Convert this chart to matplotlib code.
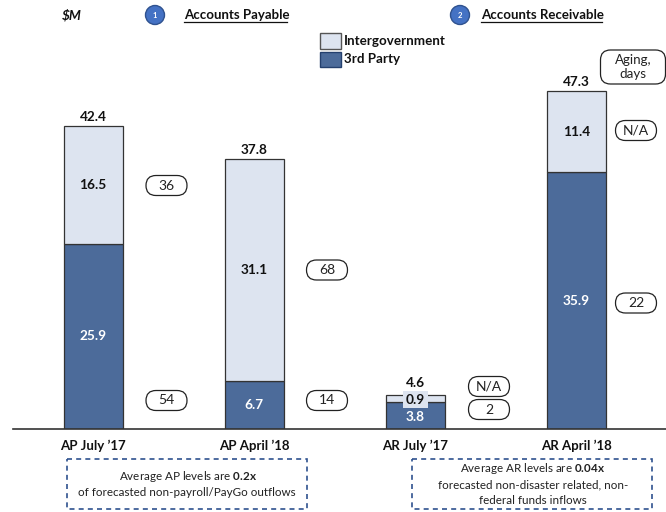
import matplotlib
matplotlib.use("Agg")
import matplotlib.pyplot as plt
from matplotlib.patches import FancyBboxPatch, Rectangle, Circle

plt.rcParams['font.family'] = ['Lato', 'DejaVu Sans']
plt.rcParams['mathtext.fontset'] = 'custom'
plt.rcParams['mathtext.bf'] = 'Lato:bold'
plt.rcParams['mathtext.rm'] = 'Lato'

categories = ["AP July \u201917", "AP April \u201918", "AR July \u201917", "AR April \u201918"]
third_party = [25.9, 6.7, 3.8, 35.9]
intergov = [16.5, 31.1, 0.9, 11.4]
totals = [42.4, 37.8, 4.6, 47.3]
aging_third = ["54", "14", "2", "22"]
aging_inter = ["36", "68", "N/A", "N/A"]

W, H = 666, 512
DARK = "#4C6B9A"
LIGHT = "#DDE4F0"
EDGE = "#333333"
TXT = "#111111"

fig = plt.figure(figsize=(W / 100, H / 100), dpi=100)

# chart axes: baseline at y=429 px, 7.15 px per unit, 161 px between bars
ax = fig.add_axes([13 / W, (H - 429) / H, (W - 13) / W, 429 / H])
ax.set_xlim((13 - 93.2) / 161, (666 - 93.2) / 161)
ax.set_ylim(0, 429 / 7.15)
ax.patch.set_alpha(0)
for s in ["top", "left", "right"]:
    ax.spines[s].set_visible(False)
ax.spines["bottom"].set_color("#333333")
ax.spines["bottom"].set_linewidth(1.2)
ax.set_yticks([])
ax.set_xticks(range(4))
ax.set_xticklabels(categories, fontweight="bold", fontsize=9.5, color=TXT)
ax.tick_params(axis="x", length=0, pad=8)

x = list(range(4))
bw = 59 / 161
ax.bar(x, third_party, bw, color=DARK, edgecolor=EDGE, linewidth=0.9, zorder=2)
ax.bar(x, intergov, bw, bottom=third_party, color=LIGHT, edgecolor=EDGE, linewidth=0.9, zorder=2)

for i in x:
    small = third_party[i] < 5
    yb = third_party[i] / 2 - (0.2 if small else 0)
    ax.text(i, yb, f"{third_party[i]}", ha="center", va="center", color="white",
            fontweight="bold", fontsize=9.8, zorder=3)
    ax.text(i, third_party[i] + intergov[i] / 2 - (0.15 if small else 0), f"{intergov[i]}", ha="center", va="center",
            color=TXT, fontweight="bold", fontsize=9.8, zorder=3,
            bbox=dict(facecolor=LIGHT, edgecolor="none", pad=2.0) if small else None)
    top = third_party[i] + intergov[i]
    ax.annotate(f"{totals[i]}", (i, top), xytext=(0, 4.5 if small else 2), textcoords="offset points",
                ha="center", va="bottom", color=TXT, fontweight="bold", fontsize=9.8, zorder=3)

# overlay in pixel coordinates for annotations
ov = fig.add_axes([0, 0, 1, 1])
ov.set_xlim(0, W)
ov.set_ylim(H, 0)
ov.axis("off")
ov.patch.set_alpha(0)


def pill(cx, cy, label, w=41, h=20, rad=10, fs=10, ls=1.2):
    ov.add_patch(FancyBboxPatch((cx - w / 2 + rad, cy - h / 2 + rad), w - 2 * rad, h - 2 * rad,
                                boxstyle=f"round,pad={rad},rounding_size={rad}",
                                facecolor="white", edgecolor="#222222", linewidth=0.9, zorder=4))
    ov.text(cx, cy, label, ha="center", va="center", fontsize=fs, color="#222222", zorder=5, linespacing=ls)


pill(166.5, 185.5, aging_inter[0])
pill(166.5, 400.5, aging_third[0])
pill(327, 270, aging_inter[1])
pill(327, 400.5, aging_third[1])
pill(489, 386.5, aging_inter[2])
pill(489, 409.5, aging_third[2])
pill(636, 130.5, aging_inter[3])
pill(636, 303, aging_third[3])
pill(633, 67, "Aging,\ndays", w=65, h=34, rad=10, fs=9.6, ls=1.25)

# header
ov.text(72, 15, "$M".replace("$", "\\$"), fontsize=9.8, fontweight="bold", fontstyle="italic", ha="center", va="center", color=TXT)
for cx, n in [(155, "1"), (460, "2")]:
    ov.add_patch(Circle((cx, 15), 9.5, facecolor="#4472C4", edgecolor="#2F528F", linewidth=1, zorder=4))
    ov.text(cx, 15, n, fontsize=5.5, fontweight="bold", color="white", ha="center", va="center", zorder=5)
for x0, x1, t in [(184, 287, "Accounts Payable"), (481, 602, "Accounts Receivable")]:
    ov.text(x0, 15, t, fontsize=9.5, fontweight="bold", ha="left", va="center", color=TXT)
    ov.plot([x0, x1], [22, 22], color=TXT, lw=0.9)

# legend
ov.add_patch(Rectangle((320, 33), 21, 16, facecolor=LIGHT, edgecolor="#555555", linewidth=1))
ov.add_patch(Rectangle((320, 52), 21, 15, facecolor=DARK, edgecolor="#24406E", linewidth=1))
ov.text(344, 41, "Intergovernment", fontsize=9.6, fontweight="bold", ha="left", va="center", color=TXT)
ov.text(344, 59, "3rd Party", fontsize=9.6, fontweight="bold", ha="left", va="center", color=TXT)

# notes
for x0, x1 in [(67, 307), (412, 652)]:
    ov.add_patch(Rectangle((x0, 459), x1 - x0, 50, facecolor="none", edgecolor="#2F528F",
                           linewidth=1.2, linestyle=(0, (3, 2.5))))

NOTE = dict(fontsize=8.4, ha="center", va="center", color="#222222")
ov.text(188, 477, "Average AP levels are $\\mathbf{0.2x}$", **NOTE)
ov.text(187, 492, "of forecasted non-payroll/PayGo outflows", **NOTE)
ov.text(533, 469, "Average AR levels are $\\mathbf{0.04x}$", **NOTE)
ov.text(533, 485, "forecasted non-disaster related, non-", **NOTE)
ov.text(533, 500, "federal funds inflows", **NOTE)

fig.savefig("out.png", dpi=100)
